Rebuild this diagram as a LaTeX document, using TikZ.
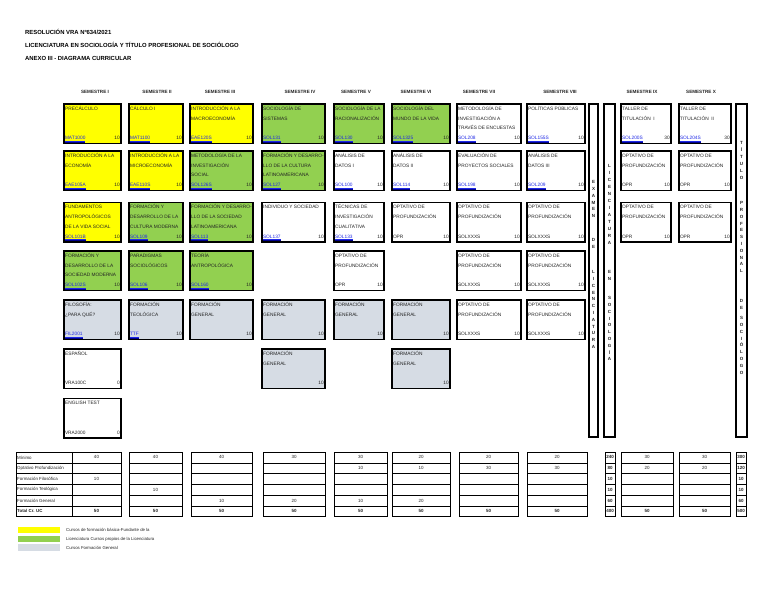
\documentclass[tikz,border=0pt]{standalone}
\usepackage{fontspec}
\setmainfont{Liberation Sans}
\definecolor{cyel}{RGB}{255,255,0}
\definecolor{cgrn}{RGB}{146,208,80}
\definecolor{cgry}{RGB}{214,220,228}
\definecolor{lnk}{RGB}{30,40,230}
\definecolor{navyb}{RGB}{0,0,140}
\definecolor{txt}{RGB}{35,35,35}
\newcommand{\lk}[1]{\setbox0\hbox{#1}\rlap{\textcolor{navyb}{\rule[-3.2pt]{\wd0}{1.6pt}}}\textcolor{lnk}{\underline{#1}}}
\tikzset{
  cbox/.style={draw=black, line width=1.1pt, minimum height=39.5pt, inner sep=0pt, outer sep=0pt},
  ctext/.style={font=\fontsize{4.8}{9.8}\selectfont, text=txt, inner sep=0pt, align=left},
  hdr/.style={font=\fontsize{4.6}{5}\selectfont\bfseries, text=txt, inner sep=0pt},
  ttl/.style={font=\fontsize{5.9}{7}\selectfont\bfseries, inner sep=0pt, anchor=west},
  vlet/.style={font=\fontsize{4.5}{6.8}\selectfont\bfseries, text=txt, inner sep=0pt, align=center, anchor=north},
  vbar/.style={draw=black, line width=1.1pt, minimum height=333pt, inner sep=0pt, outer sep=0pt, anchor=north west},
  tline/.style={line width=1pt},
  tin/.style={line width=0.5pt},
  tval/.style={font=\fontsize{4.5}{5}\selectfont, text=txt, inner sep=0pt},
  tlab/.style={font=\fontsize{4.4}{5}\selectfont, text=txt, inner sep=0pt, anchor=west},
  lgtext/.style={font=\fontsize{4.3}{5}\selectfont, text=txt, inner sep=0pt, anchor=west},
  lgbox/.style={minimum width=42pt, minimum height=6.5pt, inner sep=0pt, anchor=north west}
}
% course box: name, xl, xr, ytop, fill, text, code, credits
\newcommand{\crs}[8]{%
  \node[cbox, fill=#5, minimum width={(#3-#2)*1pt}, anchor=north west] (#1) at (#2,#4) {};
  \node[ctext, anchor=north west] (#1t) at ([xshift=1pt,yshift=-2pt]#1.north west) {\vphantom{Ó}#6};
  \node[ctext, anchor=base west] (#1c) at ([xshift=0.8pt,yshift=3.8pt]#1.south west) {#7};
  \node[ctext, anchor=base east] (#1n) at ([xshift=-1pt,yshift=3.8pt]#1.south east) {#8};
}
% table column: name, xl, xr, six values
\newcommand{\tcol}[9]{%
  \draw[tline] (#2,452) rectangle (#3,516.8);
  \foreach \yy in {462.8,473.6,484.4,495.2,506}{\draw[tin] (#2,\yy) -- (#3,\yy);}
  \node[tval] (#1a) at ({(#2+#3)/2},457.4) {#4};
  \node[tval] (#1b) at ({(#2+#3)/2},468.2) {#5};
  \node[tval] (#1c) at ({(#2+#3)/2},479) {#6};
  \node[tval] (#1d) at ({(#2+#3)/2},489.8) {#7};
  \node[tval] (#1e) at ({(#2+#3)/2},500.6) {#8};
  \node[tval, font=\fontsize{4.5}{5}\selectfont\bfseries] (#1f) at ({(#2+#3)/2},511.4) {#9};
}
\begin{document}
\begin{tikzpicture}[x=1pt,y=-1pt]
\useasboundingbox (0,0) rectangle (768,594);
\fill[white] (0,0) rectangle (768,594);

% titles
\node[ttl] (t1) at (25,31.5) {RESOLUCIÓN VRA Nº634/2021};
\node[ttl] (t2) at (25,45) {LICENCIATURA EN SOCIOLOGÍA Y TÍTULO PROFESIONAL DE SOCIÓLOGO};
\node[ttl] (t3) at (25,58.5) {ANEXO III - DIAGRAMA CURRICULAR};

% semester headers
\node[hdr] (h1) at (95,92.3) {SEMESTRE I};
\node[hdr] (h2) at (157,92.3) {SEMESTRE II};
\node[hdr] (h3) at (220,92.3) {SEMESTRE III};
\node[hdr] (h4) at (300,92.3) {SEMESTRE IV};
\node[hdr] (h5) at (356,92.3) {SEMESTRE V};
\node[hdr] (h6) at (416,92.3) {SEMESTRE VI};
\node[hdr] (h7) at (479,92.3) {SEMESTRE VII};
\node[hdr] (h8) at (560,92.3) {SEMESTRE VIII};
\node[hdr] (h9) at (642,92.3) {SEMESTRE IX};
\node[hdr] (h10) at (701,92.3) {SEMESTRE X};

% Semester I
\crs{a1}{64}{121}{104}{cyel}{PRECÁLCULO}{\lk{MAT1000}}{10}
\crs{a2}{64}{121}{151}{cyel}{INTRODUCCIÓN A LA\\ECONOMÍA}{\lk{EAE105A}}{10}
\crs{a3}{64}{121}{202.5}{cyel}{FUNDAMENTOS\\ANTROPOLÓGICOS\\DE LA VIDA SOCIAL}{\lk{SOL101B}}{10}
\crs{a4}{64}{121}{251}{cgrn}{FORMACIÓN Y\\DESARROLLO DE LA\\SOCIEDAD MODERNA}{\lk{SOL102S}}{10}
\crs{a5}{64}{121}{300}{cgry}{FILOSOFÍA:\\¿PARA QUÉ?}{\lk{FIL2001}}{10}
\crs{a6}{64}{121}{349}{white}{ESPAÑOL}{VRA100C}{0}
\crs{a7}{64}{121}{398.5}{white}{ENGLISH TEST}{VRA2000}{0}

% Semester II
\crs{b1}{129}{183}{104}{cyel}{CÁLCULO I}{\lk{MAT1100}}{10}
\crs{b2}{129}{183}{151}{cyel}{INTRODUCCIÓN A LA\\MICROECONOMÍA}{\lk{EAE110S}}{10}
\crs{b3}{129}{183}{202.5}{cgrn}{FORMACIÓN Y\\DESARROLLO DE LA\\CULTURA MODERNA}{\lk{SOL109}}{10}
\crs{b4}{129}{183}{251}{cgrn}{PARADIGMAS\\SOCIOLÓGICOS}{\lk{SOL106}}{10}
\crs{b5}{129}{183}{300}{cgry}{FORMACIÓN\\TEOLÓGICA}{\lk{TTF}}{10}

% Semester III
\crs{c1}{190}{253}{104}{cyel}{INTRODUCCIÓN A LA\\MACROECONOMÍA}{\lk{EAE120S}}{10}
\crs{c2}{190}{253}{151}{cgrn}{METODOLOGÍA DE LA\\INVESTIGACIÓN\\SOCIAL}{\lk{SOL126S}}{10}
\crs{c3}{190}{253}{202.5}{cgrn}{FORMACIÓN Y DESARRO-\\LLO DE LA SOCIEDAD\\LATINOAMERICANA}{\lk{SOL113}}{10}
\crs{c4}{190}{253}{251}{cgrn}{TEORÍA\\ANTROPOLÓGICA}{\lk{SOL160}}{10}
\crs{c5}{190}{253}{300}{cgry}{FORMACIÓN\\GENERAL}{}{10}

% Semester IV
\crs{d1}{262}{325}{104}{cgrn}{SOCIOLOGÍA DE\\SISTEMAS}{\lk{SOL131}}{10}
\crs{d2}{262}{325}{151}{cgrn}{FORMACIÓN Y DESARRO-\\LLO DE LA CULTURA\\LATINOAMERICANA}{\lk{SOL127}}{10}
\crs{d3}{262}{325}{202.5}{white}{INDIVIDUO Y SOCIEDAD}{\lk{SOL137}}{10}
\crs{d5}{262}{325}{300}{cgry}{FORMACIÓN\\GENERAL}{}{10}
\crs{d6}{262}{325}{349}{cgry}{FORMACIÓN\\GENERAL}{}{10}

% Semester V
\crs{e1}{334}{384}{104}{cgrn}{SOCIOLOGÍA DE LA\\RACIONALIZACIÓN}{\lk{SOL130}}{10}
\crs{e2}{334}{384}{151}{white}{ANÁLISIS DE\\DATOS I}{\lk{SOL100}}{10}
\crs{e3}{334}{384}{202.5}{white}{TÉCNICAS DE\\INVESTIGACIÓN\\CUALITATIVA}{\lk{SOL133}}{10}
\crs{e4}{334}{384}{251}{white}{OPTATIVO DE\\PROFUNDIZACIÓN}{OPR}{10}
\crs{e5}{334}{384}{300}{cgry}{FORMACIÓN\\GENERAL}{}{10}

% Semester VI
\crs{f1}{392}{450}{104}{cgrn}{SOCIOLOGÍA DEL\\MUNDO DE LA VIDA}{\lk{SOL1325}}{10}
\crs{f2}{392}{450}{151}{white}{ANÁLISIS DE\\DATOS II}{\lk{SOL114}}{10}
\crs{f3}{392}{450}{202.5}{white}{OPTATIVO DE\\PROFUNDIZACIÓN}{OPR}{10}
\crs{f5}{392}{450}{300}{cgry}{FORMACIÓN\\GENERAL}{}{10}
\crs{f6}{392}{450}{349}{cgry}{FORMACIÓN\\GENERAL}{}{10}

% Semester VII
\crs{g1}{457}{521}{104}{white}{METODOLOGÍA DE\\INVESTIGACIÓN A\\TRAVÉS DE ENCUESTAS}{\lk{SOL208}}{10}
\crs{g2}{457}{521}{151}{white}{EVALUACIÓN DE\\PROYECTOS SOCIALES}{\lk{SOL198}}{10}
\crs{g3}{457}{521}{202.5}{white}{OPTATIVO DE\\PROFUNDIZACIÓN}{SOLXXXS}{10}
\crs{g4}{457}{521}{251}{white}{OPTATIVO DE\\PROFUNDIZACIÓN}{SOLXXXS}{10}
\crs{g5}{457}{521}{300}{white}{OPTATIVO DE\\PROFUNDIZACIÓN}{SOLXXXS}{10}

% Semester VIII
\crs{k1}{527}{585}{104}{white}{POLÍTICAS PÚBLICAS}{\lk{SOL155S}}{10}
\crs{k2}{527}{585}{151}{white}{ANÁLISIS DE\\DATOS III}{\lk{SOL209}}{10}
\crs{k3}{527}{585}{202.5}{white}{OPTATIVO DE\\PROFUNDIZACIÓN}{SOLXXXS}{10}
\crs{k4}{527}{585}{251}{white}{OPTATIVO DE\\PROFUNDIZACIÓN}{SOLXXXS}{10}
\crs{k5}{527}{585}{300}{white}{OPTATIVO DE\\PROFUNDIZACIÓN}{SOLXXXS}{10}

% Semester IX
\crs{m1}{621}{671}{104}{white}{TALLER DE\\TITULACIÓN\ \ I}{\lk{SOL200S}}{30}
\crs{m2}{621}{671}{151}{white}{OPTATIVO DE\\PROFUNDIZACIÓN}{OPR}{10}
\crs{m3}{621}{671}{202.5}{white}{OPTATIVO DE\\PROFUNDIZACIÓN}{OPR}{10}

% Semester X
\crs{n1}{679}{731}{104}{white}{TALLER DE\\TITULACIÓN\ \ II}{\lk{SOL204S}}{30}
\crs{n2}{679}{731}{151}{white}{OPTATIVO DE\\PROFUNDIZACIÓN}{OPR}{10}
\crs{n3}{679}{731}{202.5}{white}{OPTATIVO DE\\PROFUNDIZACIÓN}{OPR}{10}

% vertical bars
\node[vbar, minimum width=9pt] (v1) at (589,104) {};
\node[vlet] (v1a) at (593.5,180.4) {E\\X\\A\\M\\E\\N};
\node[vlet] (v1b) at (593.5,238.4) {D\\E};
\node[vlet] (v1c) at (593.5,270.4) {L\\I\\C\\E\\N\\C\\I\\A\\T\\U\\R\\A};

\node[vbar, minimum width=11pt] (v2) at (604,104) {};
\node[vlet, font=\fontsize{4.5}{7.0}\selectfont\bfseries] (v2a) at (609.5,164.4) {L\\I\\C\\E\\N\\C\\I\\A\\T\\U\\R\\A};
\node[vlet] (v2b) at (609.5,270.4) {E\\N};
\node[vlet] (v2c) at (609.5,296.4) {S\\O\\C\\I\\O\\L\\O\\G\\Í\\A};

\node[vbar, minimum width=11pt] (v3) at (736,104) {};
\node[vlet, font=\fontsize{4.5}{7.0}\selectfont\bfseries] (v3a) at (741.5,141.4) {T\\Í\\T\\U\\L\\O};
\node[vlet] (v3b) at (741.5,201.4) {P\\R\\O\\F\\E\\S\\I\\O\\N\\A\\L};
\node[vlet] (v3c) at (741.5,299.4) {D\\E};
\node[vlet] (v3d) at (741.5,316.4) {S\\O\\C\\I\\Ó\\L\\O\\G\\O};

% bottom table
\draw[tline] (16,452) rectangle (72,516.8);
\foreach \yy in {462.8,473.6,484.4,495.2,506}{\draw[tin] (16,\yy) -- (72,\yy);}
\node[tlab] (l1) at (17,457.4) {Mínimo};
\node[tlab] (l2) at (17,468.2) {Optativo Profundización};
\node[tlab] (l3) at (17,479) {Formación Filosófica};
\node[tlab] (l4) at (17,489.8) {Formación Teológica};
\node[tlab] (l5) at (17,500.6) {Formación General};
\node[tlab, font=\fontsize{4.4}{5}\selectfont\bfseries] (l6) at (17,511.4) {Total Cr. UC};

\tcol{s1}{72}{121}{40}{}{10}{}{}{50}
\tcol{s2}{129}{182}{40}{}{}{10}{}{50}
\tcol{s3}{191}{252}{40}{}{}{}{10}{50}
\tcol{s4}{263}{325}{30}{}{}{}{20}{50}
\tcol{s5}{334}{387}{30}{10}{}{}{10}{50}
\tcol{s6}{392}{450}{20}{10}{}{}{20}{50}
\tcol{s7}{459}{518}{20}{30}{}{}{}{50}
\tcol{s8}{527}{587}{20}{30}{}{}{}{50}
\tcol{st}{605}{615}{\textbf{240}}{\textbf{80}}{\textbf{10}}{\textbf{10}}{\textbf{60}}{400}
\tcol{s9}{621}{673}{30}{20}{}{}{}{50}
\tcol{s10}{679}{730}{30}{20}{}{}{}{50}
\tcol{sg}{736}{746}{\textbf{300}}{\textbf{120}}{\textbf{10}}{\textbf{10}}{\textbf{60}}{500}

% legend
\node[lgbox, fill=cyel] (lg1) at (18,526.5) {};
\node[lgbox, fill=cgrn] (lg2) at (18,535.3) {};
\node[lgbox, fill=cgry] (lg3) at (18,544) {};
\node[lgtext] (lt1) at (66,530) {Cursos de formación básica-Fundante de la};
\node[lgtext] (lt2) at (66,539) {Licenciatura Cursos propios de la Licenciatura};
\node[lgtext] (lt3) at (66,548) {Cursos Formación General};
\end{tikzpicture}
\end{document}
